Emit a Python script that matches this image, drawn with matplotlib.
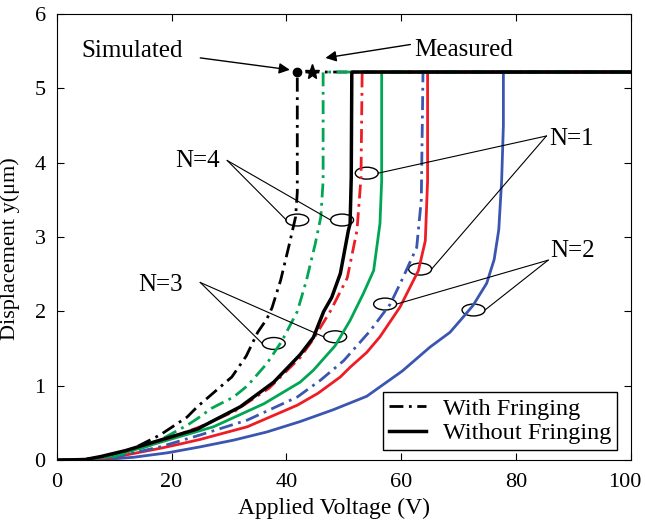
import matplotlib.pyplot as plt
from matplotlib.patches import Ellipse
from matplotlib.lines import Line2D
from matplotlib.transforms import ScaledTranslation

plt.rcParams['font.family'] = ['Liberation Serif', 'DejaVu Serif']

# Curves: (voltage, displacement)
n4_with_v = [0, 5, 10, 13.4, 18, 22.7, 24.5, 27.5, 30.5, 33, 35, 36.6, 37.5, 39, 40.5, 41.6, 41.9, 41.9, 100]
n4_with_y = [0, 0.01, 0.07, 0.16, 0.34, 0.58, 0.72, 0.92, 1.12, 1.4, 1.72, 1.9, 2.05, 2.42, 2.9, 3.27, 3.6, 5.22, 5.22]

n3_with_v = [0, 5, 10, 16.3, 22.7, 24.5, 27, 30.8, 33.2, 36.6, 39.2, 41.9, 43.5, 45, 46.0, 46.4, 46.4, 100]
n3_with_y = [0, 0.01, 0.05, 0.2, 0.47, 0.56, 0.7, 0.85, 1.0, 1.3, 1.6, 2.0, 2.42, 2.9, 3.27, 3.76, 5.22, 5.22]

n1_with_v = [0, 5, 10, 19.3, 25, 31, 37, 42.4, 44.7, 47.7, 50.6, 52.3, 53.0, 53.2, 100]
n1_with_y = [0, 0.01, 0.07, 0.29, 0.45, 0.66, 0.97, 1.38, 1.63, 2.01, 2.45, 3.09, 3.8, 5.22, 5.22]

n2_with_v = [0, 5, 10, 18, 25, 33.2, 41.9, 46, 50, 54.6, 58.1, 60.1, 62.7, 63.5, 63.8, 100]
n2_with_y = [0, 0.01, 0.04, 0.18, 0.34, 0.54, 0.85, 1.08, 1.34, 1.74, 2.1, 2.42, 2.86, 3.5, 5.22, 5.22]

n4_wo_v = [0, 5, 7.7, 12, 19.3, 24.5, 32, 37.8, 42.4, 44.7, 46.5, 47.9, 49.4, 50.8, 51.1, 51.3, 51.4, 100]
n4_wo_y = [0, 0.01, 0.05, 0.13, 0.3, 0.42, 0.72, 1.05, 1.42, 1.65, 2.0, 2.19, 2.51, 3.09, 3.18, 3.8, 5.22, 5.22]

n3_wo_v = [0, 5, 10, 19.3, 27.3, 36.1, 42.4, 44.7, 48.5, 51.1, 53.4, 55.2, 56.3, 56.6, 56.6, 100]
n3_wo_y = [0, 0.01, 0.06, 0.27, 0.45, 0.76, 1.05, 1.21, 1.54, 1.88, 2.24, 2.55, 3.18, 3.76, 5.22, 5.22]

n1_wo_v = [0, 5, 10, 18, 21.6, 25, 33.2, 41.9, 45.5, 49.4, 51.1, 54, 56.3, 59.8, 63, 64.2, 64.6, 64.6, 100]
n1_wo_y = [0, 0.01, 0.04, 0.16, 0.22, 0.28, 0.45, 0.74, 0.9, 1.12, 1.25, 1.45, 1.66, 2.06, 2.55, 2.95, 3.76, 5.22, 5.22]

n2_wo_v = [0, 5, 10, 13.4, 19.3, 25, 30.8, 36.6, 42.4, 48.2, 54, 60.2, 65, 68.5, 70.3, 72.5, 74.9, 76.2, 77, 77.5, 77.8, 77.8, 100]
n2_wo_y = [0, 0.005, 0.02, 0.04, 0.1, 0.18, 0.27, 0.38, 0.52, 0.68, 0.86, 1.2, 1.52, 1.72, 1.88, 2.08, 2.38, 2.7, 3.1, 3.76, 4.5, 5.22, 5.22]

# Pull-in points
sim_point = (41.9, 5.22)
meas_point = (44.5, 5.22)

green = '#00a651'
red = '#ee1c24'
blue = '#3a56b0'
dd = (0, (5, 2, 1, 2))

fig = plt.figure(figsize=(6.45, 5.29), dpi=100)
ax = fig.add_axes([0.088, 0.130, 0.890, 0.8435])

ax.plot(n2_wo_v, n2_wo_y, color=blue, lw=2)
ax.plot(n1_wo_v, n1_wo_y, color=red, lw=2)
ax.plot(n3_wo_v, n3_wo_y, color=green, lw=2)
ax.plot(n2_with_v, n2_with_y, color=blue, lw=2, linestyle=dd)
ax.plot(n1_with_v, n1_with_y, color=red, lw=2, linestyle=dd)
ax.plot(n4_with_v, n4_with_y, color='black', lw=2, linestyle=dd)
ax.plot(n3_with_v, n3_with_y, color=green, lw=2, linestyle=dd)
ax.plot(n4_wo_v, n4_wo_y, color='black', lw=2.5)

ax.plot(*sim_point, 'o', color='black', ms=6)
ax.plot(*meas_point, '*', color='black', ms=11)

# Text labels and arrows
arrow = dict(arrowstyle='-|>', color='black', lw=1, mutation_scale=16,
             shrinkA=0, shrinkB=0)
ax.text(13.2, 5.50, 'Simulated', fontsize=18, ha='center', va='center')
ax.annotate('', xy=(40.6, 5.25), xytext=(25.0, 5.41), arrowprops=arrow)
ax.text(70.9, 5.52, 'Measured', fontsize=18, ha='center', va='center')
ax.annotate('', xy=(46.8, 5.41), xytext=(61.6, 5.59), arrowprops=arrow)

ellipses = [(41.9, 3.23), (49.7, 3.23), (37.8, 1.57), (48.5, 1.66),
            (54.0, 3.86), (63.3, 2.57), (57.2, 2.10), (72.6, 2.02)]
for cx, cy in ellipses:
    ax.add_patch(Ellipse((cx, cy), 4.0, 0.16, fill=False, ec='black', lw=1))

labels = [('N=4', 24.6, 4.02, 29.7, 4.03, [(40.0, 3.23), (47.7, 3.23)]),
          ('N=3', 18.1, 2.36, 25.0, 2.39, [(35.8, 1.57), (46.5, 1.66)]),
          ('N=1', 89.7, 4.32, 85.3, 4.36, [(56.0, 3.86), (65.3, 2.57)]),
          ('N=2', 89.8, 2.82, 85.6, 2.69, [(59.2, 2.10), (74.6, 2.02)])]
for txt, tx, ty, lx, ly, targets in labels:
    ax.text(tx, ty, txt, fontsize=18, ha='center', va='center')
    for ex, ey in targets:
        ax.plot([lx, ex], [ly, ey], color='black', lw=0.8)

handles = [Line2D([], [], color='black', lw=2, linestyle=dd),
           Line2D([], [], color='black', lw=2.5)]
leg = ax.legend(handles, ['With Fringing', 'Without Fringing'], loc='lower right',
                bbox_to_anchor=(0.976, 0.022), fontsize=17.5, fancybox=False,
                framealpha=1, edgecolor='black', handlelength=1.5,
                handletextpad=0.7, borderpad=0.25, labelspacing=0.1,
                borderaxespad=0)
leg.get_frame().set_linewidth(1)

ax.set_xlim(0, 100)
ax.set_ylim(0, 6)
ax.set_xticks([0, 20, 40, 60, 80, 100])
ax.set_yticks([0, 1, 2, 3, 4, 5, 6])
ax.tick_params(direction='in', top=True, right=True, labelsize=16, length=5)
ax.tick_params(axis='x', pad=9)
ax.tick_params(axis='y', pad=8)
ax.set_xlabel('Applied Voltage (V)', fontsize=17)
ax.set_ylabel('Displacement y(μm)', fontsize=16)
ax.xaxis.set_label_coords(0.483, -0.085)
ax.yaxis.set_label_coords(-0.064, 0.475)

# the last x tick label sits at the right edge of the figure
last = ax.get_xticklabels()[-1]
last.set_transform(last.get_transform() + ScaledTranslation(-4 / 72, 0, fig.dpi_scale_trans))

fig.savefig('out.png', dpi=100)
